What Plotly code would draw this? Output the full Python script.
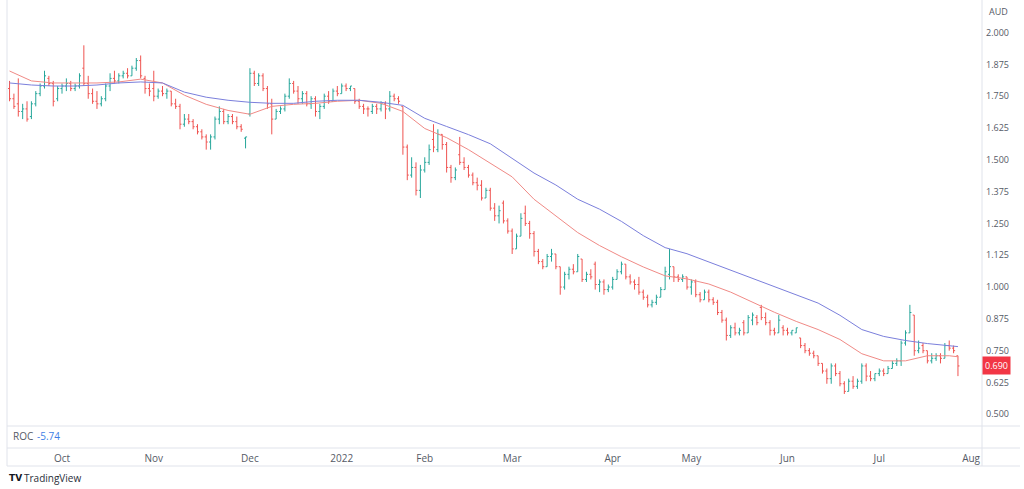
import pandas as pd
import plotly.graph_objects as go

# ASX trading calendar (weekends + exchange holidays are skipped on the time axis)
holidays = ['2021-12-27', '2021-12-28', '2022-01-03', '2022-01-26',
            '2022-04-15', '2022-04-18', '2022-04-25', '2022-06-13']
dates = pd.bdate_range('2021-09-15', '2022-07-27', freq='C', holidays=holidays)

# daily bars (one line per month)
opens = [
    1.78, 1.74, 1.72, 1.69, 1.70, 1.67, 1.72, 1.76, 1.79, 1.82, 1.80, 1.74,  # Sep
    1.78, 1.79, 1.80, 1.78, 1.79, 1.86, 1.80, 1.76, 1.73, 1.72, 1.74, 1.79, 1.82, 1.81, 1.83, 1.84, 1.83, 1.86, 1.89, 1.82, 1.78,  # Oct
    1.78, 1.75, 1.77, 1.76, 1.77, 1.72, 1.71, 1.64, 1.66, 1.65, 1.63, 1.61, 1.59, 1.57, 1.59, 1.66, 1.69, 1.65, 1.67, 1.65, 1.63, 1.585,  # Nov
    1.68, 1.84, 1.80, 1.83, 1.78, 1.72, 1.66, 1.69, 1.70, 1.75, 1.80, 1.77, 1.74, 1.76, 1.72, 1.74, 1.69, 1.71, 1.75, 1.73, 1.77,  # Dec
    1.76, 1.79, 1.78, 1.78, 1.73, 1.71, 1.70, 1.69, 1.71, 1.70, 1.72, 1.70, 1.75, 1.74, 1.71, 1.55, 1.44, 1.47, 1.38,  # Jan
    1.46, 1.49, 1.58, 1.54, 1.60, 1.56, 1.47, 1.43, 1.52, 1.49, 1.47, 1.44, 1.41, 1.40, 1.35, 1.38, 1.31, 1.28, 1.33, 1.26,  # Feb
    1.22, 1.15, 1.20, 1.29, 1.25, 1.21, 1.14, 1.10, 1.08, 1.12, 1.13, 1.08, 1.00, 1.05, 1.07, 1.06, 1.11, 1.03, 1.05, 1.09, 1.01, 1.02, 0.99,  # Mar
    1.00, 1.03, 1.06, 1.09, 1.04, 1.02, 1.01, 0.98, 0.96, 0.93, 0.94, 0.96, 0.99, 1.05, 1.08, 1.04, 1.03, 1.04,  # Apr
    1.00, 1.02, 0.97, 0.95, 0.98, 0.95, 0.94, 0.90, 0.87, 0.81, 0.84, 0.82, 0.86, 0.82, 0.87, 0.88, 0.92, 0.88, 0.86, 0.83, 0.82, 0.84,  # May
    0.83, 0.82, 0.82, 0.80, 0.77, 0.75, 0.74, 0.73, 0.70, 0.67, 0.64, 0.69, 0.66, 0.62, 0.59, 0.63, 0.61, 0.63, 0.69, 0.65, 0.64,  # Jun
    0.66, 0.67, 0.66, 0.68, 0.70, 0.71, 0.78, 0.82, 0.89, 0.75, 0.77, 0.75, 0.71, 0.72, 0.73, 0.72, 0.77, 0.76, 0.73,  # Jul
]
highs = [
    1.81, 1.76, 1.82, 1.72, 1.73, 1.73, 1.77, 1.80, 1.85, 1.83, 1.81, 1.79,
    1.80, 1.82, 1.81, 1.80, 1.84, 1.95, 1.83, 1.78, 1.77, 1.75, 1.80, 1.84, 1.85, 1.84, 1.85, 1.86, 1.87, 1.90, 1.91, 1.83, 1.80,
    1.85, 1.78, 1.79, 1.78, 1.77, 1.74, 1.72, 1.68, 1.68, 1.66, 1.64, 1.62, 1.60, 1.60, 1.67, 1.71, 1.70, 1.68, 1.68, 1.67, 1.64, 1.59,
    1.86, 1.85, 1.84, 1.84, 1.79, 1.74, 1.70, 1.71, 1.76, 1.82, 1.81, 1.79, 1.77, 1.77, 1.75, 1.75, 1.72, 1.76, 1.77, 1.78, 1.79,
    1.80, 1.80, 1.79, 1.78, 1.74, 1.72, 1.71, 1.72, 1.72, 1.73, 1.73, 1.77, 1.76, 1.75, 1.71, 1.56, 1.51, 1.49, 1.48,
    1.51, 1.56, 1.64, 1.62, 1.60, 1.57, 1.48, 1.47, 1.59, 1.51, 1.48, 1.45, 1.43, 1.42, 1.39, 1.39, 1.33, 1.32, 1.34, 1.27,
    1.23, 1.21, 1.29, 1.32, 1.26, 1.22, 1.15, 1.11, 1.13, 1.15, 1.13, 1.08, 1.06, 1.08, 1.09, 1.13, 1.11, 1.06, 1.07, 1.10, 1.03, 1.03, 1.01,
    1.04, 1.07, 1.10, 1.09, 1.05, 1.03, 1.04, 0.99, 0.97, 0.95, 0.97, 1.00, 1.08, 1.15, 1.08, 1.05, 1.05, 1.04,
    1.03, 1.03, 0.98, 0.99, 0.99, 0.96, 0.95, 0.91, 0.88, 0.85, 0.86, 0.84, 0.87, 0.89, 0.90, 0.89, 0.93, 0.90, 0.87, 0.84, 0.89, 0.85,
    0.84, 0.83, 0.84, 0.80, 0.78, 0.76, 0.75, 0.73, 0.70, 0.68, 0.70, 0.70, 0.67, 0.63, 0.64, 0.65, 0.64, 0.70, 0.70, 0.67, 0.66,
    0.68, 0.68, 0.69, 0.71, 0.72, 0.79, 0.83, 0.93, 0.89, 0.79, 0.78, 0.75, 0.74, 0.74, 0.74, 0.78, 0.79, 0.77, 0.73,
]
lows = [
    1.73, 1.70, 1.67, 1.66, 1.65, 1.66, 1.71, 1.75, 1.78, 1.79, 1.71, 1.73,
    1.76, 1.77, 1.77, 1.77, 1.78, 1.79, 1.74, 1.72, 1.70, 1.71, 1.73, 1.77, 1.80, 1.80, 1.82, 1.82, 1.83, 1.85, 1.82, 1.76, 1.75,
    1.73, 1.74, 1.75, 1.74, 1.71, 1.70, 1.62, 1.63, 1.64, 1.62, 1.60, 1.58, 1.54, 1.54, 1.58, 1.64, 1.64, 1.64, 1.64, 1.62, 1.61, 1.545,
    1.67, 1.79, 1.79, 1.77, 1.70, 1.60, 1.66, 1.68, 1.69, 1.74, 1.76, 1.72, 1.72, 1.71, 1.70, 1.67, 1.66, 1.70, 1.72, 1.73, 1.75,
    1.76, 1.77, 1.77, 1.72, 1.70, 1.68, 1.67, 1.68, 1.68, 1.69, 1.66, 1.69, 1.73, 1.72, 1.52, 1.42, 1.43, 1.36, 1.35,
    1.45, 1.48, 1.53, 1.53, 1.54, 1.45, 1.41, 1.42, 1.48, 1.46, 1.43, 1.40, 1.38, 1.34, 1.35, 1.30, 1.26, 1.25, 1.25, 1.21,
    1.13, 1.15, 1.20, 1.24, 1.19, 1.12, 1.09, 1.07, 1.08, 1.10, 1.07, 0.97, 0.99, 1.03, 1.05, 1.06, 1.02, 1.02, 1.03, 0.99, 0.98, 0.97, 0.98,
    0.99, 1.03, 1.05, 1.03, 1.01, 0.99, 0.97, 0.95, 0.92, 0.92, 0.93, 0.96, 0.99, 1.03, 1.02, 1.02, 1.02, 0.99,
    0.97, 0.96, 0.94, 0.95, 0.94, 0.93, 0.89, 0.86, 0.79, 0.80, 0.81, 0.81, 0.81, 0.82, 0.85, 0.85, 0.87, 0.85, 0.81, 0.81, 0.82, 0.81,
    0.81, 0.81, 0.82, 0.76, 0.74, 0.73, 0.72, 0.69, 0.66, 0.62, 0.62, 0.65, 0.61, 0.58, 0.59, 0.60, 0.60, 0.62, 0.63, 0.63, 0.63,
    0.65, 0.65, 0.66, 0.68, 0.69, 0.69, 0.77, 0.82, 0.73, 0.74, 0.74, 0.70, 0.70, 0.71, 0.70, 0.72, 0.75, 0.74, 0.65,
]
closes = [
    1.74, 1.71, 1.69, 1.70, 1.66, 1.72, 1.76, 1.79, 1.83, 1.80, 1.73, 1.78,
    1.79, 1.80, 1.78, 1.79, 1.83, 1.80, 1.76, 1.73, 1.72, 1.74, 1.79, 1.82, 1.81, 1.83, 1.84, 1.83, 1.86, 1.89, 1.83, 1.78, 1.77,
    1.75, 1.77, 1.76, 1.77, 1.72, 1.71, 1.64, 1.66, 1.65, 1.63, 1.61, 1.59, 1.57, 1.59, 1.66, 1.69, 1.65, 1.67, 1.65, 1.63, 1.62, 1.59,
    1.84, 1.80, 1.83, 1.78, 1.72, 1.66, 1.69, 1.70, 1.75, 1.80, 1.77, 1.74, 1.76, 1.72, 1.74, 1.69, 1.71, 1.75, 1.73, 1.77, 1.76,
    1.79, 1.78, 1.79, 1.73, 1.71, 1.70, 1.70, 1.71, 1.70, 1.72, 1.70, 1.75, 1.74, 1.73, 1.55, 1.44, 1.47, 1.38, 1.46,
    1.49, 1.54, 1.55, 1.60, 1.56, 1.47, 1.43, 1.46, 1.49, 1.47, 1.44, 1.41, 1.40, 1.35, 1.38, 1.31, 1.28, 1.30, 1.26, 1.22,
    1.15, 1.20, 1.27, 1.25, 1.21, 1.14, 1.10, 1.08, 1.12, 1.13, 1.08, 1.00, 1.05, 1.07, 1.06, 1.12, 1.03, 1.05, 1.04, 1.01, 1.02, 0.99, 1.00,
    1.03, 1.06, 1.09, 1.04, 1.02, 1.01, 0.98, 0.96, 0.93, 0.94, 0.96, 0.99, 1.06, 1.08, 1.04, 1.03, 1.04, 1.00,
    1.02, 0.97, 0.95, 0.98, 0.95, 0.94, 0.90, 0.87, 0.81, 0.84, 0.82, 0.83, 0.82, 0.88, 0.89, 0.86, 0.88, 0.86, 0.83, 0.82, 0.87, 0.83,
    0.82, 0.83, 0.84, 0.77, 0.75, 0.74, 0.73, 0.70, 0.67, 0.64, 0.69, 0.66, 0.62, 0.59, 0.63, 0.61, 0.63, 0.69, 0.65, 0.64, 0.66,
    0.67, 0.66, 0.68, 0.70, 0.71, 0.78, 0.82, 0.90, 0.75, 0.76, 0.75, 0.71, 0.72, 0.73, 0.72, 0.77, 0.76, 0.75, 0.69,
]

# moving averages, sampled every 5th bar (+ the last bar)
ma_dates = list(dates[::5]) + [dates[-1]]
ma_fast = [1.849, 1.810, 1.802, 1.802, 1.802, 1.806, 1.817, 1.802, 1.754, 1.718, 1.694, 1.679,
           1.710, 1.718, 1.722, 1.730, 1.734, 1.722, 1.690, 1.623, 1.587, 1.540, 1.488, 1.433,
           1.345, 1.278, 1.214, 1.163, 1.119, 1.079, 1.044, 1.032, 1.012, 0.980, 0.940, 0.901,
           0.865, 0.833, 0.794, 0.738, 0.710, 0.710, 0.730, 0.730, 0.726]
ma_slow = [1.802, 1.794, 1.790, 1.790, 1.794, 1.802, 1.806, 1.802, 1.766, 1.746, 1.734, 1.726,
           1.722, 1.722, 1.730, 1.734, 1.734, 1.726, 1.714, 1.663, 1.631, 1.599, 1.563, 1.504,
           1.448, 1.401, 1.345, 1.306, 1.258, 1.202, 1.155, 1.131, 1.099, 1.067, 1.036, 1.004,
           0.972, 0.937, 0.889, 0.833, 0.806, 0.790, 0.778, 0.770, 0.766]

last_price = 0.690
roc_value = -5.74
price_ticks = [0.5, 0.625, 0.75, 0.875, 1.0, 1.125, 1.25, 1.375, 1.5, 1.625, 1.75, 1.875, 2.0]
month_ticks = ['2021-10-01', '2021-11-01', '2021-12-01', '2022-01-04', '2022-02-01', '2022-03-01',
               '2022-04-01', '2022-05-02', '2022-06-01', '2022-07-01', '2022-08-01']
month_labels = ['Oct', 'Nov', 'Dec', '2022', 'Feb', 'Mar', 'Apr', 'May', 'Jun', 'Jul', 'Aug']

W, H = 1024, 489
FONT = 'Open Sans, Roboto, sans-serif'
GREY = '#555a66'
LINE = '#e0e3eb'


def px_x(x):
    return x / W


def px_y(y):
    return 1 - y / H


breaks = [dict(bounds=['sat', 'mon']), dict(values=holidays)]

fig = go.Figure()

fig.add_trace(go.Ohlc(
    x=dates, open=opens, high=highs, low=lows, close=closes,
    increasing=dict(line=dict(color='#26a69a', width=1)),
    decreasing=dict(line=dict(color='#ef5350', width=1)),
    tickwidth=0.35, hoverinfo='skip', showlegend=False,
))
fig.add_trace(go.Scatter(x=ma_dates, y=ma_fast, mode='lines',
                         line=dict(color='#f08a86', width=1), hoverinfo='skip', showlegend=False))
fig.add_trace(go.Scatter(x=ma_dates, y=ma_slow, mode='lines',
                         line=dict(color='#7b7fdc', width=1), hoverinfo='skip', showlegend=False))

x_range = [pd.Timestamp('2021-09-14 10:00'), pd.Timestamp('2022-08-03 12:00')]

fig.update_layout(
    width=W, height=H,
    margin=dict(l=0, r=0, t=0, b=0),
    paper_bgcolor='white', plot_bgcolor='white',
    font=dict(family=FONT, size=10, color=GREY),
    showlegend=False,
    # month labels sit in the time-scale strip below the (empty) ROC pane
    xaxis=dict(
        type='date', domain=[px_x(7), px_x(982)], range=x_range, anchor='y',
        rangebreaks=breaks, tickvals=month_ticks, ticktext=month_labels,
        ticklabelstandoff=25, tickfont=dict(size=10, color=GREY),
        showgrid=False, zeroline=False, rangeslider=dict(visible=False), ticks='',
    ),
    yaxis=dict(
        domain=[px_y(426), 1], range=[0.454, 2.128], side='right', anchor='x',
        tickvals=price_ticks, ticktext=[f'{v:.3f}' for v in price_ticks],
        ticks='', showgrid=False, zeroline=False,
        ticklabelstandoff=3, tickfont=dict(size=9, color=GREY),
    ),
)

# pane separators and frame
shapes = [
    dict(type='line', x0=px_x(7), x1=px_x(1020), y0=px_y(426), y1=px_y(426)),
    dict(type='line', x0=px_x(7), x1=px_x(1020), y0=px_y(448), y1=px_y(448)),
    dict(type='line', x0=px_x(7), x1=px_x(1020), y0=px_y(466), y1=px_y(466)),
    dict(type='line', x0=px_x(982), x1=px_x(982), y0=px_y(466), y1=1),
    dict(type='line', x0=px_x(7), x1=px_x(7), y0=px_y(466), y1=1),
]
for s in shapes:
    s.update(xref='paper', yref='paper', line=dict(color=LINE, width=1), layer='below')
fig.update_layout(shapes=shapes)

fig.add_annotation(x=px_x(987), y=px_y(11), xref='paper', yref='paper', text='AUD',
                   showarrow=False, xanchor='left', yanchor='middle', font=dict(size=9, color=GREY))
fig.add_annotation(x=px_x(982), y=last_price, xref='paper', yref='y', text=f'{last_price:.3f}',
                   showarrow=False, xanchor='left', yanchor='middle', bgcolor='#f23645',
                   borderpad=2, font=dict(size=9, color='white'))
fig.add_annotation(x=px_x(11), y=px_y(436), xref='paper', yref='paper', text='ROC',
                   showarrow=False, xanchor='left', yanchor='middle', font=dict(size=10, color=GREY))
fig.add_annotation(x=px_x(35), y=px_y(436), xref='paper', yref='paper', text=f'{roc_value:.2f}',
                   showarrow=False, xanchor='left', yanchor='middle', font=dict(size=10, color='#3d7ee6'))
fig.add_annotation(x=px_x(7), y=px_y(478), xref='paper', yref='paper', text='<b>TV</b>',
                   showarrow=False, xanchor='left', yanchor='middle',
                   font=dict(family='DejaVu Sans', size=9, color='#131722'))
fig.add_annotation(x=px_x(22), y=px_y(478), xref='paper', yref='paper', text='TradingView',
                   showarrow=False, xanchor='left', yanchor='middle', font=dict(size=10, color='#2a2e39'))

# page has no body margin, so the 1024x489 figure fills the window exactly
fig.write_html("out.html", config={'displayModeBar': False},
               post_script="document.body.style.margin='0';document.body.style.overflow='hidden';")
